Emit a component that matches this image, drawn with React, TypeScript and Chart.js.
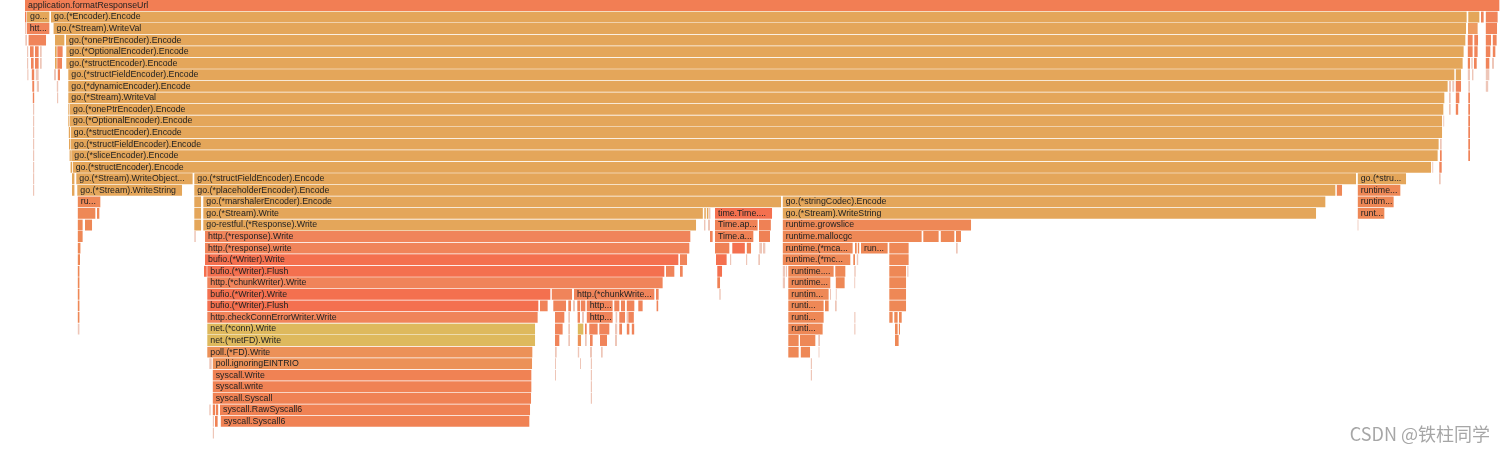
import React, { useEffect, useRef } from "react";
import { Chart, registerables } from "chart.js";

Chart.register(...registerables);

// [depth, start, end, package, label]
type Frame = [number, number, number, string, string];

const trunkFrames: Frame[] = [
  [0, 25, 1500, "app", "application.formatResponseUrl"],
  [1, 27, 50, "enc", "go..."],
  [1, 51, 1467.3, "enc", "go.(*Encoder).Encode"],
  [2, 26.7, 50, "http", "htt..."],
  [2, 53.5, 1466.7, "enc", "go.(*Stream).WriteVal"],
  [3, 66, 1466, "enc", "go.(*onePtrEncoder).Encode"],
  [4, 66.3, 1464.3, "enc", "go.(*OptionalEncoder).Encode"],
  [5, 66.3, 1463.3, "enc", "go.(*structEncoder).Encode"],
  [6, 68.3, 1455, "enc", "go.(*structFieldEncoder).Encode"],
  [7, 68.3, 1448.3, "enc", "go.(*dynamicEncoder).Encode"],
  [8, 68.3, 1445, "enc", "go.(*Stream).WriteVal"],
  [9, 70, 1444, "enc", "go.(*onePtrEncoder).Encode"],
  [10, 70, 1442.7, "enc", "go.(*OptionalEncoder).Encode"],
  [11, 70.7, 1442.7, "enc", "go.(*structEncoder).Encode"],
  [12, 71, 1439.3, "enc", "go.(*structFieldEncoder).Encode"],
  [13, 71.3, 1438.3, "enc", "go.(*sliceEncoder).Encode"],
  [14, 72.7, 1431.7, "enc", "go.(*structEncoder).Encode"],
];

const leftFrames: Frame[] = [
  [1, 25, 26.5, "app", ""],
  [2, 25, 26, "x", ""],
  [3, 25.3, 27, "x", ""],
  [3, 28.5, 46.7, "http", ""],
  [3, 55, 65, "enc", ""],
  [4, 27, 28.3, "x", ""],
  [4, 30, 34.3, "http", ""],
  [4, 35, 39.3, "http", ""],
  [4, 40, 41.7, "x", ""],
  [4, 55, 56.7, "enc", ""],
  [4, 57.3, 63.3, "http", ""],
  [5, 27, 28.3, "x", ""],
  [5, 31, 34.3, "http", ""],
  [5, 35, 39.3, "http", ""],
  [5, 40, 41.7, "x", ""],
  [5, 55, 56.7, "enc", ""],
  [5, 57.3, 62.7, "http", ""],
  [6, 27.3, 28.5, "x", ""],
  [6, 31.7, 34.3, "http", ""],
  [6, 35.7, 39.3, "x", ""],
  [6, 54, 56, "x", ""],
  [6, 57.7, 60, "http", ""],
  [7, 32.3, 34.3, "http", ""],
  [7, 36.7, 39, "x", ""],
  [7, 56.7, 58.3, "x", ""],
  [8, 32.7, 34.3, "http", ""],
  [8, 57, 58.3, "x", ""],
  [9, 33, 34.3, "x", ""],
  [10, 33, 34.3, "x", ""],
  [11, 33, 34.3, "x", ""],
  [12, 33, 34.3, "x", ""],
  [13, 33, 34.3, "x", ""],
  [14, 33, 34.3, "x", ""],
  [15, 33, 34.3, "x", ""],
  [16, 33, 34.3, "x", ""],
  [9, 68.3, 69.5, "enc", ""],
  [10, 68.3, 69.5, "enc", ""],
  [11, 68.7, 70, "enc", ""],
  [12, 69, 70.5, "enc", ""],
  [13, 69.5, 70.8, "enc", ""],
  [14, 70.5, 72, "enc", ""],
  [15, 72, 74.5, "enc", ""],
  [16, 72, 74.5, "enc", ""],
];

const rightFrames: Frame[] = [
  [1, 1468.3, 1480, "enc", ""],
  [1, 1481, 1484.3, "http", ""],
  [1, 1485.7, 1498.3, "http", ""],
  [2, 1468, 1478.3, "mix", ""],
  [2, 1485.7, 1497.7, "http", ""],
  [3, 1467.7, 1473.3, "http", ""],
  [3, 1474.3, 1478.7, "http", ""],
  [3, 1485.7, 1491.7, "http", ""],
  [3, 1492.7, 1497.3, "http", ""],
  [4, 1467.7, 1473.3, "http", ""],
  [4, 1474.3, 1478.3, "http", ""],
  [4, 1485.7, 1491, "http", ""],
  [4, 1492.7, 1496, "http", ""],
  [5, 1467.7, 1470.7, "http", ""],
  [5, 1471.3, 1472.7, "x", ""],
  [5, 1474, 1476.7, "http", ""],
  [5, 1485.7, 1490, "http", ""],
  [5, 1492, 1494, "x", ""],
  [6, 1455.7, 1461.7, "enc", ""],
  [6, 1467.7, 1470, "x", ""],
  [6, 1472, 1473.5, "x", ""],
  [6, 1485.7, 1490, "x", ""],
  [7, 1449, 1451, "x", ""],
  [7, 1452.3, 1454.3, "x", ""],
  [7, 1455.7, 1461.7, "http", ""],
  [7, 1468.3, 1470, "x", ""],
  [7, 1485.7, 1488.3, "x", ""],
  [8, 1449, 1450.7, "x", ""],
  [8, 1455.7, 1460, "http", ""],
  [8, 1468.3, 1470, "http", ""],
  [9, 1449, 1450.7, "x", ""],
  [9, 1455.7, 1458.3, "http", ""],
  [9, 1468.3, 1470, "http", ""],
  [10, 1443.3, 1444.3, "x", ""],
  [10, 1468.3, 1470, "http", ""],
  [11, 1468.3, 1470, "http", ""],
  [12, 1440, 1441.7, "x", ""],
  [12, 1468.3, 1470, "http", ""],
  [13, 1440, 1441.7, "http", ""],
  [13, 1468.3, 1470, "http", ""],
  [14, 1432.3, 1433.3, "x", ""],
  [14, 1439.3, 1441.7, "http", ""],
  [15, 1439, 1440.7, "x", ""],
];

const encodeFrames: Frame[] = [
  [15, 76.3, 193.3, "enc", "go.(*Stream).WriteObject..."],
  [15, 194.3, 1356.7, "enc", "go.(*structFieldEncoder).Encode"],
  [15, 1357.7, 1406.7, "enc", "go.(*stru..."],
  [16, 77.3, 182.7, "enc", "go.(*Stream).WriteString"],
  [16, 194.3, 1336, "enc", "go.(*placeholderEncoder).Encode"],
  [16, 1336.7, 1342.7, "rt", ""],
  [16, 1357.7, 1401, "rt", "runtime..."],
  [17, 77.7, 101, "rt", "ru..."],
  [17, 194.3, 201.7, "enc", ""],
  [17, 203.3, 781.7, "enc", "go.(*marshalerEncoder).Encode"],
  [17, 782.7, 1326, "enc", "go.(*stringCodec).Encode"],
  [17, 1357.7, 1394.3, "rt", "runtim..."],
  [18, 77.7, 96, "rt", ""],
  [18, 97, 100, "rt", ""],
  [18, 194.3, 201.7, "enc", ""],
  [18, 203.3, 703.5, "enc", "go.(*Stream).Write"],
  [18, 704.3, 705.8, "enc", ""],
  [18, 706.8, 708.5, "enc", ""],
  [18, 709, 710.5, "x", ""],
  [18, 782.7, 1316.7, "enc", "go.(*Stream).WriteString"],
  [18, 1357.7, 1385, "rt", "runt..."],
  [19, 77.7, 83.3, "rt", ""],
  [19, 85, 92.7, "rt", ""],
  [19, 194.3, 201.7, "enc", ""],
  [19, 203.3, 696.7, "rest", "go-restful.(*Response).Write"],
  [19, 704, 705.5, "x", ""],
  [19, 708, 710, "x", ""],
  [19, 1357.5, 1358.5, "x", ""],
  [20, 77.7, 83.3, "rt", ""],
  [20, 194.3, 195.8, "x", ""],
  [21, 77.7, 80.5, "rt", ""],
  [22, 77.7, 80, "rt", ""],
  [23, 77.7, 79.5, "rt", ""],
  [24, 77.7, 79.5, "rt", ""],
  [25, 77.7, 79.5, "rt", ""],
  [26, 77.7, 79.5, "rt", ""],
  [27, 77.7, 79.5, "rt", ""],
  [28, 77.7, 79.5, "x", ""],
];

const writeFrames: Frame[] = [
  [20, 205, 691, "http", "http.(*response).Write"],
  [20, 710, 713.3, "http", ""],
  [21, 205, 690, "http", "http.(*response).write"],
  [22, 205, 679, "bufio", "bufio.(*Writer).Write"],
  [22, 680, 687.7, "http", ""],
  [23, 204, 206.7, "bufio", ""],
  [23, 207.3, 665, "bufio", "bufio.(*Writer).Flush"],
  [23, 666, 675, "http", ""],
  [23, 680, 682.7, "http", ""],
  [24, 207.3, 663.3, "http", "http.(*chunkWriter).Write"],
  [25, 207.3, 551, "bufio", "bufio.(*Writer).Write"],
  [25, 551.7, 572.7, "http", ""],
  [25, 574, 655, "http", "http.(*chunkWrite..."],
  [25, 656, 659.3, "http", ""],
  [26, 207.3, 539, "bufio", "bufio.(*Writer).Flush"],
  [26, 540, 548.3, "http", ""],
  [26, 553.3, 566.7, "http", ""],
  [26, 568.3, 571.7, "http", ""],
  [26, 573, 575, "x", ""],
  [26, 577.3, 580, "http", ""],
  [26, 580.7, 586, "http", ""],
  [26, 586.7, 613.3, "http", "http..."],
  [26, 614.3, 620, "http", ""],
  [26, 621, 625.7, "http", ""],
  [26, 626.7, 635, "http", ""],
  [26, 638.3, 643.3, "http", ""],
  [26, 656.5, 658.3, "http", ""],
  [27, 207.3, 538.3, "http", "http.checkConnErrorWriter.Write"],
  [27, 555, 565, "http", ""],
  [27, 568.3, 570, "x", ""],
  [27, 577.5, 580, "http", ""],
  [27, 582, 584, "x", ""],
  [27, 586.7, 613.3, "http", "http..."],
  [27, 615.5, 617.3, "x", ""],
  [27, 619.3, 625.7, "http", ""],
  [27, 626.5, 628, "x", ""],
  [27, 628.3, 634.5, "http", ""],
  [28, 207.3, 535.7, "net", "net.(*conn).Write"],
  [28, 555, 563.3, "http", ""],
  [28, 568.3, 570, "x", ""],
  [28, 577.7, 584, "net", ""],
  [28, 585, 586.7, "http", ""],
  [28, 589.3, 598.3, "http", ""],
  [28, 599.3, 610, "http", ""],
  [28, 615, 617.3, "x", ""],
  [28, 619.3, 622.7, "http", ""],
  [28, 626.7, 630, "http", ""],
  [28, 631.7, 634.3, "http", ""],
  [29, 207.3, 535.7, "net", "net.(*netFD).Write"],
  [29, 555, 560, "http", ""],
  [29, 568.3, 570, "x", ""],
  [29, 577.7, 581.7, "poll", ""],
  [29, 585, 586.7, "x", ""],
  [29, 590, 593.3, "http", ""],
  [29, 600, 607.7, "http", ""],
  [29, 615, 617, "x", ""],
  [30, 207.3, 533, "poll", "poll.(*FD).Write"],
  [30, 555, 556.7, "x", ""],
  [30, 577.7, 579.3, "x", ""],
  [30, 590, 592, "x", ""],
  [30, 601, 602.7, "x", ""],
  [31, 209.3, 211.7, "x", ""],
  [31, 212.7, 532.7, "poll", "poll.ignoringEINTRIO"],
  [31, 555, 556, "x", ""],
  [31, 580, 581, "x", ""],
  [31, 590.7, 592, "x", ""],
  [32, 212.7, 532, "sys", "syscall.Write"],
  [32, 555, 556, "x", ""],
  [32, 590.7, 592, "x", ""],
  [33, 212.7, 532, "sys", "syscall.write"],
  [33, 590.7, 592, "x", ""],
  [34, 212.7, 531.7, "sys", "syscall.Syscall"],
  [34, 590.7, 592, "x", ""],
  [35, 209.3, 210.7, "x", ""],
  [35, 212.7, 215, "sys", ""],
  [35, 215.7, 218.3, "sys", ""],
  [35, 220, 530.7, "sys", "syscall.RawSyscall6"],
  [36, 212.7, 214, "x", ""],
  [36, 215, 218.3, "sys", ""],
  [36, 220.7, 530, "sys", "syscall.Syscall6"],
  [37, 212.7, 214, "x", ""],
];

const timeFrames: Frame[] = [
  [18, 715, 772.7, "time", "time.Time...."],
  [19, 715, 758.3, "time2", "Time.ap..."],
  [19, 759, 771.5, "time2", ""],
  [20, 715, 754, "time2", "Time.a..."],
  [20, 759, 770.7, "time2", ""],
  [21, 715, 730, "time2", ""],
  [21, 732.3, 745.5, "time", ""],
  [21, 746.7, 751.7, "time2", ""],
  [21, 759.3, 762, "x", ""],
  [21, 763, 766, "x", ""],
  [22, 716, 727.3, "time", ""],
  [22, 730, 731.3, "x", ""],
  [22, 746, 747.3, "x", ""],
  [22, 758.3, 760, "x", ""],
  [23, 717.3, 722.7, "time", ""],
  [24, 717.3, 720.7, "time2", ""],
  [25, 719.3, 720.7, "x", ""],
];

const runtimeFrames: Frame[] = [
  [19, 782.7, 971.7, "rt", "runtime.growslice"],
  [20, 782.7, 922.3, "rt", "runtime.mallocgc"],
  [20, 923.3, 939.3, "rt", ""],
  [20, 940.7, 955, "rt", ""],
  [20, 956, 961.7, "rt", ""],
  [21, 782.7, 853.3, "rt", "runtime.(*mca..."],
  [21, 855, 856.7, "rt", ""],
  [21, 857.7, 859.3, "rt", ""],
  [21, 861, 888.3, "rt", "run..."],
  [21, 889.3, 909.3, "rt", ""],
  [21, 956, 957.7, "x", ""],
  [22, 782.7, 851, "rt", "runtime.(*mc..."],
  [22, 853.3, 855, "rt", ""],
  [22, 856.7, 858.3, "x", ""],
  [22, 889.3, 909.3, "rt", ""],
  [23, 782.7, 785, "x", ""],
  [23, 785.7, 787, "x", ""],
  [23, 788.3, 834.3, "rt", "runtime...."],
  [23, 835.3, 846, "rt", ""],
  [23, 854.3, 855.7, "x", ""],
  [23, 889.3, 906.7, "rt", ""],
  [23, 907.3, 908.5, "x", ""],
  [24, 782.7, 785, "x", ""],
  [24, 788.3, 831, "rt", "runtime..."],
  [24, 835.7, 845.3, "rt", ""],
  [24, 854.3, 855.3, "x", ""],
  [24, 889.3, 906.7, "rt", ""],
  [25, 788.3, 829.3, "rt", "runtim..."],
  [25, 830, 831, "x", ""],
  [25, 835.7, 836.7, "x", ""],
  [25, 889.3, 906.7, "rt", ""],
  [26, 788.3, 824.3, "rt", "runti..."],
  [26, 825, 829.3, "rt", ""],
  [26, 835, 836.7, "x", ""],
  [26, 889.3, 906.7, "rt", ""],
  [27, 788.3, 824.3, "rt", "runti..."],
  [27, 854.3, 855.5, "x", ""],
  [27, 889.3, 893.3, "rt", ""],
  [27, 894.3, 898.3, "rt", ""],
  [27, 899, 901.7, "rt", ""],
  [28, 788.3, 823.3, "rt", "runti..."],
  [28, 854.3, 855.5, "x", ""],
  [28, 895, 898.3, "rt", ""],
  [28, 898.8, 900, "rt", ""],
  [29, 788.3, 799.3, "rt", ""],
  [29, 800, 816, "rt", ""],
  [29, 818.3, 820, "x", ""],
  [29, 895, 899.3, "rt", ""],
  [30, 788.3, 799.3, "rt", ""],
  [30, 800.7, 810.7, "rt", ""],
  [30, 818.5, 819.5, "x", ""],
  [31, 810.7, 812, "x", ""],
  [32, 810.7, 812, "x", ""],
];

const WATERMARK = "CSDN @铁柱同学";

const frames: Frame[] = [
  ...trunkFrames,
  ...leftFrames,
  ...rightFrames,
  ...encodeFrames,
  ...writeFrames,
  ...timeFrames,
  ...runtimeFrames,
];

const PKG_COLORS: Record<string, string> = {
  app: "#F27E54",
  enc: "#E4A65A",
  rest: "#E4A65A",
  http: "#F0845A",
  bufio: "#F4704F",
  net: "#DEB95D",
  poll: "#EC9158",
  sys: "#F08254",
  rt: "#EE8856",
  time: "#F4704F",
  time2: "#EF8155",
  mix: "#EE9C62",
  x: "#EEC6B8",
};

const labelPlugin = {
  id: "frameLabels",
  afterDatasetsDraw(chart: any) {
    const ctx = chart.ctx as CanvasRenderingContext2D;
    const meta = chart.getDatasetMeta(0);
    ctx.save();
    ctx.font = '8.8px "Liberation Sans", Arial, sans-serif';
    ctx.fillStyle = "#222";
    ctx.textBaseline = "middle";
    ctx.textAlign = "left";
    meta.data.forEach((el: any, i: number) => {
      const label = frames[i][4];
      if (!label) return;
      const { x, y, base, height } = el.getProps(["x", "y", "base", "height"], true);
      const left = Math.min(x, base);
      const right = Math.max(x, base);
      ctx.save();
      ctx.beginPath();
      ctx.rect(left, y - height / 2, right - left - 1, height);
      ctx.clip();
      ctx.fillText(label, left + 3, y - 0.3);
      ctx.restore();
    });
    ctx.font = '18px "Noto Sans CJK SC", sans-serif';
    ctx.fillStyle = "rgba(150,150,150,0.85)";
    ctx.textAlign = "right";
    ctx.fillText(WATERMARK, chart.width - 10, chart.height - 18);
    ctx.restore();
  },
};

export default function App() {
  const ref = useRef<HTMLCanvasElement>(null);
  useEffect(() => {
    const chart = new Chart(ref.current as HTMLCanvasElement, {
      type: "bar",
      data: {
        datasets: [
          {
            data: frames.map((f) => ({ x: [f[1], f[2]], y: f[0] })) as any,
            backgroundColor: frames.map((f) => PKG_COLORS[f[3]] || "#ccc"),
            borderColor: "rgba(255,255,255,0.95)",
            borderWidth: frames.map((f) =>
              f[2] - f[1] >= 3 ? { top: 0, left: 0, right: 1, bottom: 1 } : { top: 0, left: 0, right: 0, bottom: 1 }
            ) as any,
            borderSkipped: false,
            categoryPercentage: 1,
            barPercentage: 1,
          },
        ],
      },
      options: {
        indexAxis: "y",
        animation: false,
        responsive: true,
        maintainAspectRatio: false,
        layout: { padding: 0 },
        plugins: { legend: { display: false }, tooltip: { enabled: false }, title: { display: false } },
        scales: {
          x: { type: "linear", min: 0, max: 1500, display: false, offset: false },
          y: {
            type: "linear",
            reverse: true,
            offset: false,
            min: -0.5,
            max: 38.62,
            display: false,
            grid: { offset: false },
            ticks: { stepSize: 1, includeBounds: false },
          },
        },
      },
      plugins: [labelPlugin],
    });
    return () => chart.destroy();
  }, []);
  return (
    <div style={{ position: "fixed", left: 0, top: 0, width: 1500, height: 452, background: "#fff" }}>
      <canvas ref={ref} />
    </div>
  );
}
